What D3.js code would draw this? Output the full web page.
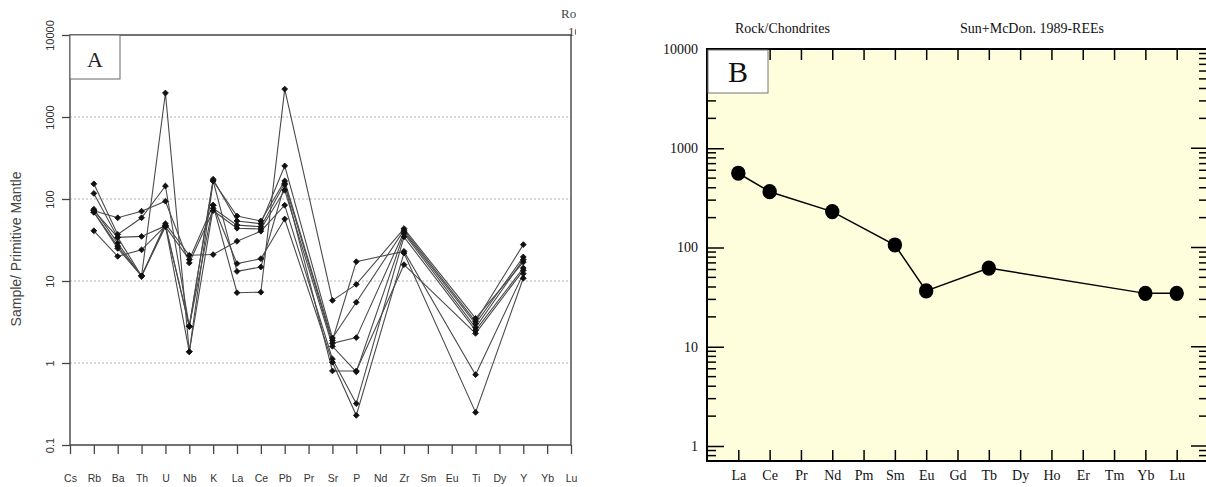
<!DOCTYPE html>
<html>
<head>
<meta charset="utf-8">
<script src="https://cdn.jsdelivr.net/npm/d3@7/dist/d3.min.js"></script>
<style>
  body { margin: 0; background: #fff; }
  svg { display: block; }
</style>
</head>
<body>
<svg id="chart" width="1206" height="487"></svg>
<script>
// ---- panel A : primitive mantle spider diagram ----
const elementsA = ["Cs", "Rb", "Ba", "Th", "U", "Nb", "K", "La", "Ce", "Pb", "Pr", "Sr", "P", "Nd", "Zr", "Sm", "Eu", "Ti", "Dy", "Y", "Yb", "Lu"];
const plottedA = ["Rb", "Ba", "Th", "U", "Nb", "K", "La", "Ce", "Pb", "Sr", "P", "Zr", "Ti", "Y"];
const sample1 = [41, 20, 24, 47, 2.8, 84, 7.2, 7.3, 2190, 5.8, 9.1, 43.6, 3.5, 17.0];
const sample2 = [69, 26.6, 11.5, 1960, 1.37, 166, 62, 54, 166, 1.88, 17.2, 23, 0.72, 12.3];
const sample3 = [153, 37, 59, 144, 2.8, 174, 54, 50, 253, 2.02, 5.5, 41.6, 3.2, 27.8];
const sample4 = [117, 34, 35, 47, 1.37, 77, 48, 46, 155, 1.74, 2.04, 39.7, 3.0, 19.6];
const sample5 = [72, 59, 71, 94, 16.6, 72, 44, 43, 128, 1.6, 0.78, 37.9, 2.7, 18.2];
const sample6 = [75, 29, 11.5, 50, 20.6, 21, 30.5, 40.5, 84, 1.12, 0.32, 34.5, 2.5, 14.4];
const sample7 = [69, 25, 11.5, 46, 18.2, 84, 16.3, 18.7, 57, 1.02, 0.23, 21.9, 0.25, 10.8];
const sample8 = [72, 34, 11.5, 48, 2.8, 166, 13.1, 14.8, 150, 0.8, 0.8, 15.8, 2.3, 13.5];
const samplesA = [sample1, sample2, sample3, sample4, sample5, sample6, sample7, sample8];
const ticksA = [0.1, 1, 10, 100, 1000, 10000];

// ---- panel B : chondrite normalised REE ----
const elementsB = ["La", "Ce", "Pr", "Nd", "Pm", "Sm", "Eu", "Gd", "Tb", "Dy", "Ho", "Er", "Tm", "Yb", "Lu"];
const plottedB = ["La", "Ce", "Nd", "Sm", "Eu", "Tb", "Yb", "Lu"];
const rockValues = [560, 365, 230, 106, 36.5, 62, 34.5, 34.5];
const ticksB = [1, 10, 100, 1000, 10000];

const svg = d3.select("#chart");

// ================= panel A =================
const xA = d3.scalePoint().domain(elementsA).range([70, 571]);
const yA = d3.scaleLog().domain([0.1, 10000]).range([445, 35]);
const gA = svg.append("g");

gA.selectAll("line.grid")
  .data(ticksA.slice(1, -1))
  .join("line")
  .attr("class", "grid")
  .attr("x1", 70).attr("x2", 571)
  .attr("y1", (d) => yA(d)).attr("y2", (d) => yA(d))
  .attr("stroke", "#b4b4b4")
  .attr("stroke-dasharray", "2,2");

const axA = gA.append("g").attr("transform", "translate(0,445)")
  .call(d3.axisBottom(xA).tickSize(9).tickPadding(21));
axA.select(".domain").remove();
axA.selectAll("line").attr("stroke", "#444").attr("stroke-width", 1.3);
axA.selectAll("text").attr("font-family", "Liberation Sans, Arial, sans-serif").attr("font-size", 10.5).attr("fill", "#333");

const ayA = gA.append("g").attr("transform", "translate(70,0)")
  .call(d3.axisLeft(yA).tickValues(ticksA).tickFormat(d3.format("~g")).tickSize(8));
ayA.select(".domain").remove();
ayA.selectAll("line").attr("stroke", "#444").attr("stroke-width", 1.3);
ayA.selectAll("text")
  .attr("x", null).attr("dy", null)
  .attr("text-anchor", "middle")
  .attr("transform", "translate(-16,0) rotate(-90)")
  .attr("font-family", "Liberation Sans, Arial, sans-serif")
  .attr("font-size", 11).attr("fill", "#333");

// frame
gA.append("path")
  .attr("d", "M70,35 V445 H571 V35 Z")
  .attr("fill", "none").attr("stroke", "#444").attr("stroke-width", 1.4);

gA.append("text")
  .attr("transform", "translate(21,249) rotate(-90)")
  .attr("text-anchor", "middle")
  .attr("font-family", "Liberation Sans, Arial, sans-serif")
  .attr("font-size", 14).attr("fill", "#444")
  .text("Sample/ Primitive Mantle");

const lineA = d3.line().x((d) => xA(d[0])).y((d) => yA(d[1]));
const rowsA = samplesA.map((s) => plottedA.map((el, i) => [el, s[i]]));
gA.selectAll("path.series")
  .data(rowsA)
  .join("path")
  .attr("class", "series")
  .attr("d", lineA)
  .attr("fill", "none")
  .attr("stroke", "#4a4a4a")
  .attr("stroke-width", 1.1);
gA.selectAll("path.pt")
  .data(rowsA.flat())
  .join("path")
  .attr("class", "pt")
  .attr("transform", (d) => `translate(${xA(d[0])},${yA(d[1])}) rotate(45)`)
  .attr("d", d3.symbol(d3.symbolSquare, 17))
  .attr("fill", "#111")
  .attr("stroke", "#111")
  .attr("stroke-width", 0.8)
  .attr("stroke-linejoin", "round");

gA.append("rect").attr("x", 70).attr("y", 35).attr("width", 50).attr("height", 44)
  .attr("fill", "#fff").attr("stroke", "#666");
gA.append("text").attr("x", 95).attr("y", 67).attr("text-anchor", "middle")
  .attr("font-family", "Liberation Serif, Times New Roman, serif").attr("font-size", 22).attr("fill", "#222")
  .text("A");

// clipped text from a neighbouring figure
svg.append("clipPath").attr("id", "cut").append("rect").attr("x", 0).attr("y", 0).attr("width", 576).attr("height", 487);
const cut = svg.append("g").attr("clip-path", "url(#cut)")
  .attr("font-family", "Liberation Serif, Times New Roman, serif").attr("font-size", 13).attr("fill", "#444");
cut.append("text").attr("x", 561).attr("y", 18).text("Ro");
cut.append("text").attr("x", 568).attr("y", 36).text("10");

// ================= panel B =================
const xB = d3.scalePoint().domain(elementsB).range([707, 1208]).padding(1);
const yB = d3.scaleLog().domain([1, 10000]).range([446, 49]);
const gB = svg.append("g");
const serif = "Liberation Serif, Times New Roman, serif";

gB.append("rect").attr("x", 707).attr("y", 49).attr("width", 501).attr("height", 412).attr("fill", "#fffedc");

// minor ticks 2..9 of each decade, plus 0.8 / 0.9 under 1
const minorB = [0.8, 0.9].concat(d3.range(0, 4).flatMap((p) => d3.range(2, 10).map((k) => k * Math.pow(10, p))));
gB.selectAll("line.minorL").data(minorB).join("line")
  .attr("x1", 707).attr("x2", 716).attr("y1", (d) => yB(d)).attr("y2", (d) => yB(d))
  .attr("stroke", "#000").attr("stroke-width", 1.5);
gB.selectAll("line.minorR").data(minorB).join("line")
  .attr("x1", 1199).attr("x2", 1208).attr("y1", (d) => yB(d)).attr("y2", (d) => yB(d))
  .attr("stroke", "#000").attr("stroke-width", 1.5);
gB.selectAll("line.majorR").data(ticksB).join("line")
  .attr("x1", 1191).attr("x2", 1208).attr("y1", (d) => yB(d)).attr("y2", (d) => yB(d))
  .attr("stroke", "#000").attr("stroke-width", 1.5);

const ayB = gB.append("g").attr("transform", "translate(707,0)")
  .call(d3.axisLeft(yB).tickValues(ticksB).tickFormat(d3.format("~g")).tickSize(-17).tickPadding(9));
ayB.select(".domain").remove();
ayB.selectAll("line").attr("stroke", "#000").attr("stroke-width", 1.5);
ayB.selectAll("text").attr("font-family", serif).attr("font-size", 14).attr("fill", "#111");

const axB = gB.append("g").attr("transform", "translate(0,461)")
  .call(d3.axisBottom(xB).tickSize(-11).tickPadding(9));
axB.select(".domain").remove();
axB.selectAll("line").attr("stroke", "#000").attr("stroke-width", 1.5);
axB.selectAll("text").attr("font-family", serif).attr("font-size", 14).attr("fill", "#111");

const atB = gB.append("g").attr("transform", "translate(0,49)")
  .call(d3.axisTop(xB).tickSize(-11).tickFormat(""));
atB.select(".domain").remove();
atB.selectAll("line").attr("stroke", "#000").attr("stroke-width", 1.5);

gB.append("rect").attr("x", 707).attr("y", 49).attr("width", 501).attr("height", 412)
  .attr("fill", "none").attr("stroke", "#000").attr("stroke-width", 2);

const rockRows = plottedB.map((el, i) => [el, rockValues[i]]);
gB.append("path")
  .attr("d", d3.line().x((d) => xB(d[0])).y((d) => yB(d[1]))(rockRows))
  .attr("fill", "none").attr("stroke", "#000").attr("stroke-width", 1.5);
gB.selectAll("ellipse.pt").data(rockRows).join("ellipse")
  .attr("class", "pt")
  .attr("cx", (d) => xB(d[0])).attr("cy", (d) => yB(d[1]))
  .attr("rx", 7.2).attr("ry", 7.6).attr("fill", "#000");

gB.append("rect").attr("x", 708).attr("y", 50).attr("width", 60).attr("height", 43)
  .attr("fill", "#fff").attr("stroke", "#777");
gB.append("text").attr("x", 738).attr("y", 82).attr("text-anchor", "middle")
  .attr("font-family", serif).attr("font-size", 30).attr("fill", "#111").text("B");

gB.append("text").attr("x", 735).attr("y", 33).attr("font-family", serif).attr("font-size", 14).attr("fill", "#111")
  .text("Rock/Chondrites");
gB.append("text").attr("x", 960).attr("y", 33).attr("font-family", serif).attr("font-size", 14).attr("fill", "#111")
  .text("Sun+McDon. 1989-REEs");
</script>
</body>
</html>
